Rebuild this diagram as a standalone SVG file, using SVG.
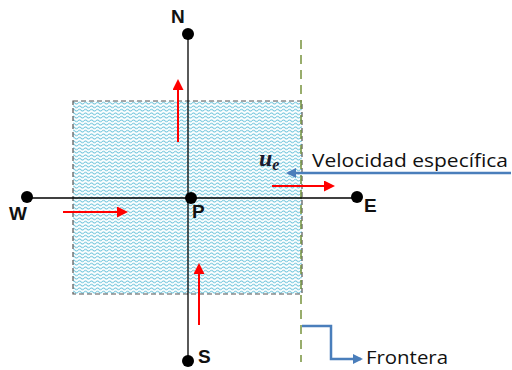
<svg xmlns="http://www.w3.org/2000/svg" width="512" height="370" viewBox="0 0 512 370">
<style>
.lbl{font-family:"Liberation Sans",Arial,sans-serif;font-weight:bold;font-size:19px;fill:#111}
.txt{font-family:"Open Sans","Liberation Sans",sans-serif;font-size:19px;fill:#111}
.ax{stroke:#000;stroke-width:1.3;fill:none}
.red{stroke:#ff0000;stroke-width:2;fill:none}
.blue{stroke:#4a7ebb;stroke-width:2.5;fill:none}
</style>
<defs>
<pattern id="wave" width="6" height="3.5" patternUnits="userSpaceOnUse">
<path d="M0 1.75 Q1.5 0 3 1.75 T6 1.75" fill="none" stroke="#52b8d4" stroke-width="0.9"/>
</pattern>
<marker id="ab" markerWidth="10" markerHeight="10" refX="8" refY="5" orient="auto" markerUnits="userSpaceOnUse" viewBox="0 0 10 10">
<path d="M0 0 L10 5 L0 10 Z" fill="#4a7ebb"/>
</marker>
<marker id="arr" markerWidth="11" markerHeight="11" refX="9" refY="5.5" orient="auto" markerUnits="userSpaceOnUse" viewBox="0 0 11 11">
<path d="M0 0 L11 5.5 L0 11 Z" fill="#ff0000"/>
</marker>
</defs>
<rect width="512" height="370" fill="#fff"/>
<g id="volume">
<rect x="73" y="101" width="229" height="193" fill="url(#wave)" stroke="#555" stroke-width="1.2" stroke-dasharray="5 3"/>
</g>
<g id="frontier-line">
<line x1="301" y1="40" x2="301" y2="362" stroke="#77933c" stroke-width="1.5" stroke-dasharray="9 6"/>
</g>
<g id="connectors">
<line class="ax" x1="188" y1="34" x2="188" y2="361"/>
<line class="ax" x1="27" y1="198" x2="357" y2="198"/>
<line class="red" x1="178" y1="142" x2="178" y2="81" marker-end="url(#arr)"/>
<line class="red" x1="63" y1="212" x2="126" y2="212" marker-end="url(#arr)"/>
<line class="red" x1="199" y1="325" x2="199" y2="265" marker-end="url(#arr)"/>
<line class="red" x1="272" y1="186" x2="333" y2="186" marker-end="url(#arr)"/>
<line class="blue" x1="511" y1="173" x2="288" y2="173" marker-end="url(#ab)"/>
<path class="blue" d="M302 326 H331 V359 H361" marker-end="url(#ab)"/>
</g>
<g id="N"><circle cx="188" cy="34" r="6"/><text class="lbl" x="171" y="23">N</text></g>
<g id="W"><circle cx="27" cy="197" r="6"/><text class="lbl" x="9" y="220">W</text></g>
<g id="E"><circle cx="357" cy="197" r="6"/><text class="lbl" x="364" y="212">E</text></g>
<g id="S"><circle cx="188" cy="361" r="6"/><text class="lbl" x="198" y="363">S</text></g>
<g id="P"><circle cx="191" cy="198" r="6"/><text class="lbl" x="192" y="218">P</text></g>
<g id="ue"><text x="259" y="166" font-family="'Liberation Serif',serif" font-weight="bold" font-style="italic" font-size="24" fill="#1a1a2e">u<tspan font-size="16" dy="4">e</tspan></text></g>
<g id="velocidad"><text class="txt" x="312" y="167" textLength="196" lengthAdjust="spacingAndGlyphs">Velocidad específica</text></g>
<g id="frontera"><text class="txt" x="366" y="364" textLength="82" lengthAdjust="spacingAndGlyphs">Frontera</text></g>
</svg>
